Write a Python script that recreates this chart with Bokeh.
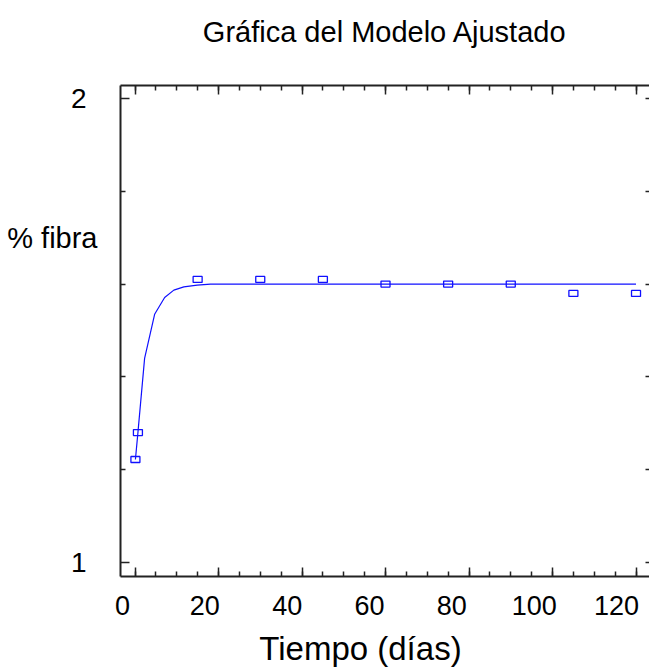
from bokeh.plotting import figure
from bokeh.models import Range1d, LinearAxis, FixedTicker
from bokeh.embed import file_html
from bokeh.resources import INLINE

# ---- data ----
title_text = "Gráfica del Modelo Ajustado"
x_label_text = "Tiempo (días)"
y_label_text = "% fibra"

days = [0.1, 0.7, 15, 30, 45, 60, 75, 90, 105, 120]
fibra = [1.222, 1.280, 1.61, 1.61, 1.61, 1.60, 1.60, 1.60, 1.58, 1.58]

fit_days = [0.1, 0.7, 2.3, 4.7, 7.1, 9.3, 11.7, 14.9, 18.1, 120]
fit_fibra = [1.222, 1.280, 1.440, 1.535, 1.571, 1.587, 1.594, 1.598, 1.600, 1.600]

x_major_ticks = [0, 20, 40, 60, 80, 100, 120]
x_all_ticks = [0, 5, 10, 15, 20, 25, 30, 35, 40, 45, 50, 55, 60, 65, 70, 75, 80,
               85, 90, 95, 100, 105, 110, 115, 120]
x_tick_labels = {0: "0", 20: "20", 40: "40", 60: "60", 80: "80", 100: "100", 120: "120"}
y_major_ticks = [1, 2]
y_minor_ticks = [1.2, 1.4, 1.6, 1.8]
y_right_ticks = [1.0, 1.2, 1.4, 1.6, 1.8, 2.0]

# where the axis titles sit (x title centre in days, y title centre in % fibra)
x_title_at = 54.0
y_title_at = 1.70

FONT = "Liberation Sans"
BLUE = "#1010ff"
AXC = "#222222"

p = figure(width=649, height=669, output_backend="svg", toolbar_location=None,
           x_range=Range1d(-3.473, 123.23), y_range=Range1d(0.9699, 2.028),
           x_axis_location=None, y_axis_location=None,
           min_border_left=120, min_border_right=0, min_border_top=85, min_border_bottom=92)
p.outline_line_color = None
for g in p.grid:
    g.visible = False
p.background_fill_color = "white"
p.border_fill_color = "white"

p.extra_x_ranges = {"xlab": Range1d(-0.486, 128.0)}


def tick_axis(ticks, length, line=True, **kw):
    """Axis that only draws tick marks (as minor ticks, so no labels are produced)."""
    ax = LinearAxis(ticker=FixedTicker(ticks=[], minor_ticks=ticks), **kw)
    ax.axis_line_color = AXC if line else None
    ax.axis_line_width = 2
    ax.major_tick_line_color = None
    ax.major_tick_in = 0
    ax.major_tick_out = 0
    ax.minor_tick_line_color = AXC
    ax.minor_tick_line_width = 1.5
    ax.minor_tick_in = length
    ax.minor_tick_out = 0
    ax.major_label_standoff = 0
    return ax


def text_axis(ticks, overrides, standoff, size, **kw):
    """Axis that only draws texts at given positions (no line, no ticks)."""
    ax = LinearAxis(ticker=FixedTicker(ticks=ticks, minor_ticks=[]),
                    major_label_overrides=overrides, **kw)
    ax.axis_line_color = None
    ax.major_tick_line_color = None
    ax.minor_tick_line_color = None
    ax.major_tick_out = 0
    ax.major_tick_in = 0
    ax.minor_tick_out = 0
    ax.minor_tick_in = 0
    ax.major_label_standoff = standoff
    ax.major_label_text_font = FONT
    ax.major_label_text_font_size = size
    ax.major_label_text_color = "black"
    return ax


# ---- bottom: ticks, tick labels, axis title ----
p.add_layout(tick_axis(x_major_ticks, 9), "below")
p.add_layout(tick_axis(x_all_ticks, 5, line=False), "below")
p.add_layout(text_axis(x_major_ticks, x_tick_labels, 19, "27px", x_range_name="xlab"), "below")
p.add_layout(text_axis([x_title_at], {x_title_at: x_label_text}, 12, "33px"), "below")

# ---- top: ticks + chart title ----
p.add_layout(tick_axis(x_major_ticks, 9), "above")
xt = tick_axis(x_all_ticks, 5, line=False)
xt.axis_label = title_text
xt.axis_label_standoff = 38
xt.axis_label_text_font = FONT
xt.axis_label_text_font_size = "29px"
xt.axis_label_text_font_style = "normal"
xt.axis_label_text_color = "black"
p.add_layout(xt, "above")

# ---- left axis ----
yl = LinearAxis(ticker=FixedTicker(ticks=y_major_ticks, minor_ticks=y_minor_ticks))
yl.axis_line_color = AXC
yl.axis_line_width = 2
yl.major_tick_line_color = AXC
yl.minor_tick_line_color = AXC
yl.major_tick_line_width = 1.5
yl.minor_tick_line_width = 1.5
yl.major_tick_in = 9
yl.major_tick_out = 0
yl.minor_tick_in = 5
yl.minor_tick_out = 0
yl.major_label_standoff = 34
yl.major_label_text_font = FONT
yl.major_label_text_font_size = "28px"
yl.major_label_text_color = "black"
p.add_layout(yl, "left")
p.add_layout(text_axis([y_title_at], {y_title_at: y_label_text}, -30, "29px"), "left")

# ---- right ticks ----
p.add_layout(tick_axis(y_right_ticks, 4, line=False), "right")

# ---- fitted model line and observations ----
p.line(fit_days, fit_fibra, line_color=BLUE, line_width=1.2)
p.rect(days, fibra, width=9, height=6, width_units="screen", height_units="screen",
       fill_color=None, line_color=BLUE, line_width=1.3)

open("out.html", "w").write(file_html(p, INLINE))
